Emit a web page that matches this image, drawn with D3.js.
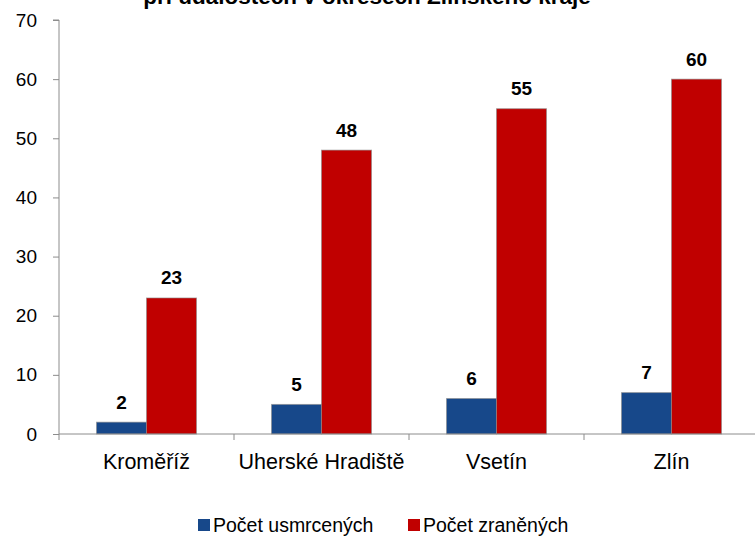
<!DOCTYPE html>
<html>
<head>
<meta charset="utf-8">
<script src="https://cdn.jsdelivr.net/npm/d3@7"></script>
<style>
  html, body { margin: 0; padding: 0; background: #fff; }
  svg { display: block; font-family: "Liberation Sans", Arial, sans-serif; }
</style>
</head>
<body>
<svg id="chart" width="755" height="536"></svg>
<script>
// data
const districts = ['Kroměříž', 'Uherské Hradiště', 'Vsetín', 'Zlín'];
const killed    = [2, 5, 6, 7];
const injured   = [23, 48, 55, 60];
const seriesNames = ['Počet usmrcených', 'Počet zraněných'];
const yTicks    = [0, 10, 20, 30, 40, 50, 60, 70];

const COLORS = ['#17488a', '#c00000'];
const AXIS   = '#8c8c8c';

const svg = d3.select('#chart');
const M = { left: 59, top: 20, bottom: 434 };
const catW = 175;

const x = d3.scaleBand()
  .domain(districts)
  .range([M.left, M.left + catW * districts.length])
  .paddingInner(0).paddingOuter(0);

// two bars of 50px inside a 175px category, centred
const xs = d3.scaleBand()
  .domain([0, 1])
  .range([0, x.bandwidth()])
  .paddingInner(0).paddingOuter(0.75);

const y = d3.scaleLinear().domain([0, 70]).range([M.bottom, M.top]);

// title (cut off at the top in the reference)
svg.append('text')
  .attr('x', 367).attr('y', 4)
  .attr('text-anchor', 'middle')
  .attr('font-weight', 'bold').attr('font-size', '22.5px')
  .attr('fill', '#000')
  .text('při událostech v okresech Zlínského kraje');

// bars
const rows = districts.map((d, i) => ({ d, vals: [killed[i], injured[i]] }));
const groups = svg.append('g').selectAll('g')
  .data(rows).join('g')
  .attr('transform', r => `translate(${x(r.d)},0)`);

groups.selectAll('rect')
  .data(r => r.vals.map((v, s) => ({ v, s })))
  .join('rect')
  .attr('x', d => xs(d.s))
  .attr('width', xs.bandwidth())
  .attr('y', d => y(d.v))
  .attr('height', d => y(0) - y(d.v))
  .attr('fill', d => COLORS[d.s])
  .attr('stroke', '#8a8a8a')
  .attr('stroke-opacity', 0.6)
  .attr('stroke-width', 1);

groups.selectAll('text.val')
  .data(r => r.vals.map((v, s) => ({ v, s })))
  .join('text')
  .attr('class', 'val')
  .attr('x', d => xs(d.s) + xs.bandwidth() / 2)
  .attr('y', d => y(d.v) - 13.5)
  .attr('text-anchor', 'middle')
  .attr('font-weight', 'bold').attr('font-size', '19px')
  .attr('fill', '#000')
  .text(d => d.v);

// y axis
const yAxis = svg.append('g')
  .attr('transform', `translate(${M.left},0)`)
  .call(d3.axisLeft(y).tickValues(yTicks).tickSize(6).tickPadding(16));
yAxis.select('.domain').attr('stroke', AXIS).attr('d', `M-6,${M.top}H0V${M.bottom}`);
yAxis.selectAll('.tick line').attr('stroke', AXIS);
yAxis.selectAll('.tick text')
  .attr('font-size', '19px').attr('fill', '#000')
  .attr('font-family', '"Liberation Sans", Arial, sans-serif');

// x axis
const xAxis = svg.append('g')
  .attr('transform', `translate(0,${M.bottom})`)
  .call(d3.axisBottom(x).tickSize(0).tickPadding(20));
xAxis.select('.domain').attr('stroke', AXIS).attr('d', `M${M.left},0H${M.left + catW * districts.length}`);
xAxis.selectAll('.tick text')
  .attr('dy', null).attr('y', 35)
  .attr('font-size', '21.5px').attr('fill', '#000')
  .attr('font-family', '"Liberation Sans", Arial, sans-serif');
// category separators
xAxis.selectAll('line.sep')
  .data(d3.range(districts.length + 1))
  .join('line')
  .attr('class', 'sep')
  .attr('x1', i => M.left + i * catW).attr('x2', i => M.left + i * catW)
  .attr('y1', 0).attr('y2', 6)
  .attr('stroke', AXIS);

// legend
const legendX = [198, 408];
const legend = svg.append('g').selectAll('g')
  .data(seriesNames).join('g')
  .attr('transform', (d, i) => `translate(${legendX[i]},519)`);
legend.append('rect')
  .attr('width', 12).attr('height', 12)
  .attr('fill', (d, i) => COLORS[i]);
legend.append('text')
  .attr('x', 15).attr('y', 13)
  .attr('font-size', '19.5px').attr('fill', '#000')
  .text(d => d);
</script>
</body>
</html>
